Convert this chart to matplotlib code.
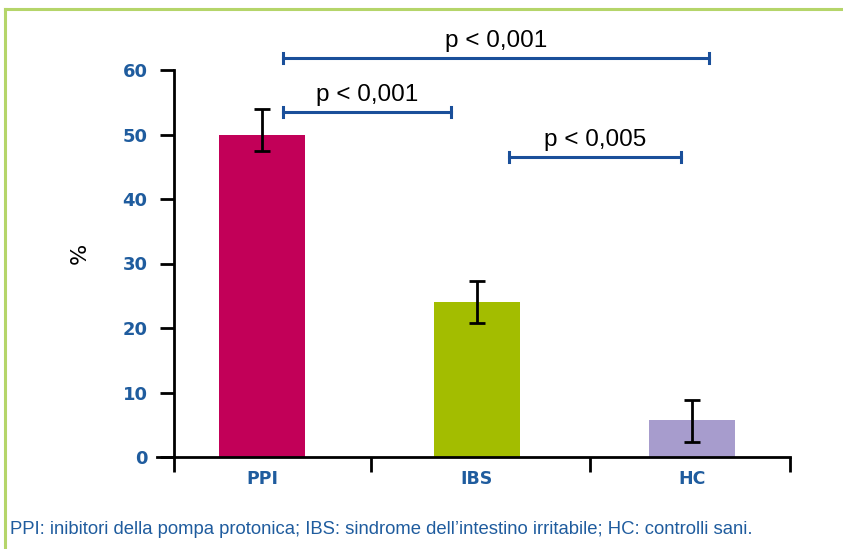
import matplotlib.pyplot as plt
from matplotlib.lines import Line2D

# data
groups = ["PPI", "IBS", "HC"]
values = [50.0, 24.0, 5.7]
err_low = [2.5, 3.3, 3.3]
err_high = [4.0, 3.3, 3.2]
bar_colors = ["#c20058", "#a3bd00", "#a79ccd"]

# significance brackets: (x start, x end, height, label)
sig_x1 = [0.10, 0.10, 1.15]
sig_x2 = [2.08, 0.88, 1.95]
sig_y = [61.9, 53.5, 46.5]
sig_labels = ["p < 0,001", "p < 0,001", "p < 0,005"]

caption = "PPI: inibitori della pompa protonica; IBS: sindrome dell\u2019intestino irritabile; HC: controlli sani."

blue = "#1f5c9e"
narrow = ["Liberation Sans", "DejaVu Sans"]

fig = plt.figure(figsize=(8.43, 5.49), dpi=100)
ax = fig.add_axes([157/843, 92/549, 633/843, 387/549])

x = list(range(len(groups)))
ax.bar(x, values, width=0.4, color=bar_colors, zorder=2)
ax.errorbar(x, values, yerr=[err_low, err_high], fmt="none", ecolor="black",
            elinewidth=2, capsize=6, capthick=2, zorder=3)

ax.set_xlim(-0.488, 2.456)
ax.set_ylim(0, 60)

# axes styling
for s in ["top", "right"]:
    ax.spines[s].set_visible(False)
ax.spines["left"].set_position(("data", -0.409))
ax.spines["left"].set_linewidth(2)
ax.spines["bottom"].set_linewidth(2)

ax.set_yticks(range(0, 61, 10))
ax.tick_params(axis="y", length=10, width=2, colors="black", labelcolor=blue,
               labelsize=13, pad=9)
for lb in ax.get_yticklabels():
    lb.set_fontweight("bold")

ax.set_xticks([-0.409, 0.507, 1.526, 2.456])
ax.set_xticklabels([])
ax.tick_params(axis="x", length=11, width=2)
ax.set_xticks(x, minor=True)
ax.set_xticklabels(groups, minor=True, color=blue, fontweight="bold", fontsize=12.5)
ax.tick_params(axis="x", which="minor", length=0, pad=9)

ax.set_ylabel("%", fontsize=16)
ax.yaxis.set_label_coords(-0.106, 0.527)

# significance brackets
for x1, x2, yy, lab in zip(sig_x1, sig_x2, sig_y, sig_labels):
    ax.plot([x1, x2], [yy, yy], color="#1a4f9a", lw=2.2, clip_on=False)
    ax.plot([x1, x1], [yy - 0.8, yy + 0.8], color="#1a4f9a", lw=2.2, clip_on=False)
    ax.plot([x2, x2], [yy - 0.8, yy + 0.8], color="#1a4f9a", lw=2.2, clip_on=False)
    ax.text((x1 + x2) / 2, yy + 0.9, lab, ha="center", va="bottom", fontsize=17.5,
            family=narrow, color="black", clip_on=False)

# caption and frame
fig.text(10/843, 1 - 530/549, caption, ha="left", va="center", color=blue,
         fontsize=13.3, family=narrow)
fig.add_artist(Line2D([5/843, 1], [1 - 9/549, 1 - 9/549], color="#b5d56a", lw=2.2))
fig.add_artist(Line2D([5/843, 5/843], [0, 1 - 9/549], color="#b5d56a", lw=2.2))

fig.savefig("out.png", dpi=100)
